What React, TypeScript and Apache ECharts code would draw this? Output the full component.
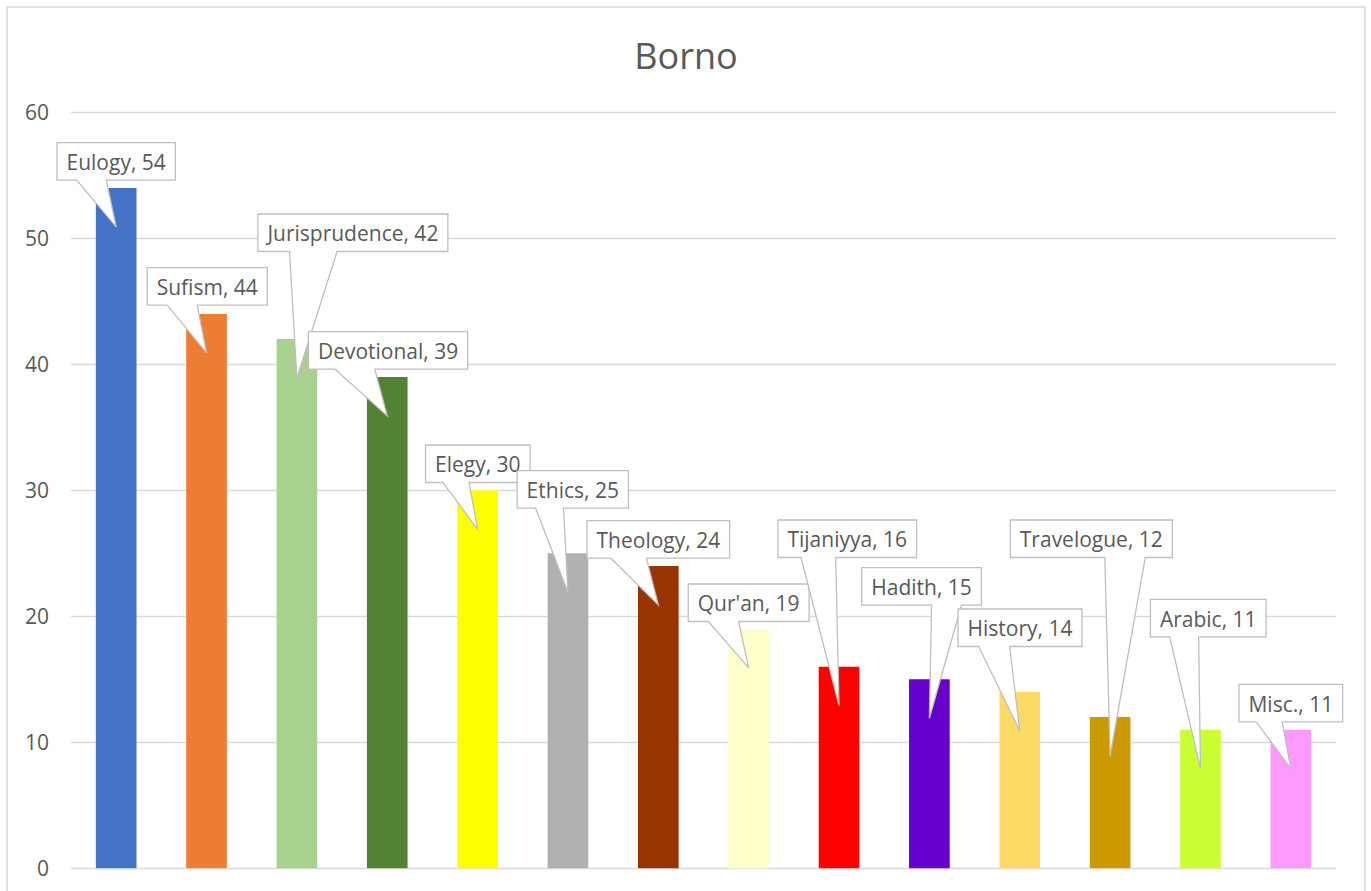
import React, { useEffect, useRef } from "react";
import * as echarts from "echarts";

const title = "Borno";
const categories = ["Eulogy", "Sufism", "Jurisprudence", "Devotional", "Elegy", "Ethics", "Theology", "Qur'an", "Tijaniyya", "Hadith", "History", "Travelogue", "Arabic", "Misc."];
const values = [54, 44, 42, 39, 30, 25, 24, 19, 16, 15, 14, 12, 11, 11];
const barColors = ["#4472C4", "#ED7D31", "#A9D18E", "#548235", "#FFFF00", "#B0B0B0", "#993300", "#FFFFCC", "#FF0000", "#6600CC", "#FFD966", "#CC9900", "#CCFF33", "#FF99FF"];
const yMin = 0;
const yMax = 60;
const yInterval = 10;

// callout layout (box center x offset from bar center, box top offset from bar top), in px
const calloutDx = [0, 0.7, 56, 0.8, 0.2, 4.8, 0, 0, 8.2, -7.8, 0.2, -18.8, 7.8, 0];
const calloutDy = [-45.2, -46.2, -125.1, -45.2, -45.3, -82.6, -45.2, -44.9, -146.7, -111.6, -82.9, -197.1, -130.4, -45.4];

const FONT_FAMILY = '"Open Sans", "Liberation Sans", sans-serif';
const LABEL_SIZE = 21;
const TEXT_COLOR = "#595959";

let measureCtx: CanvasRenderingContext2D | null = null;
function measure(text: string, size: number): number {
  if (!measureCtx) measureCtx = document.createElement("canvas").getContext("2d");
  if (!measureCtx) return text.length * size * 0.5;
  measureCtx.font = `${size}px ${FONT_FAMILY}`;
  return measureCtx.measureText(text).width;
}

export default function App() {
  const ref = useRef<HTMLDivElement>(null);
  useEffect(() => {
    if (!ref.current) return;
    const chart = echarts.init(ref.current, null, { renderer: "svg" });
    const option: any = {
      animation: false,
      backgroundColor: "#ffffff",
      grid: { left: 71, right: 35, top: 112.3, bottom: 22.7 },
      graphic: [
        {
          type: "rect",
          shape: { x: 7, y: 7, width: 1358, height: 1000 },
          style: { fill: "none", stroke: "#D9D9D9", lineWidth: 1.5 },
          silent: true,
        },
        {
          type: "text",
          x: 686,
          y: 55,
          style: { text: title, fill: TEXT_COLOR, fontSize: 36, fontFamily: FONT_FAMILY, align: "center", verticalAlign: "middle" },
        },
      ],
      xAxis: {
        type: "category",
        data: categories,
        axisLine: { show: false },
        axisTick: { show: false },
        axisLabel: { show: false },
        splitLine: { show: false },
      },
      yAxis: {
        type: "value",
        min: yMin,
        max: yMax,
        interval: yInterval,
        axisLine: { show: false },
        axisTick: { show: false },
        axisLabel: { color: TEXT_COLOR, fontSize: LABEL_SIZE, fontFamily: FONT_FAMILY, margin: 22 },
        splitLine: { lineStyle: { color: "#D9D9D9", width: 1.3 } },
      },
      series: [
        {
          type: "bar",
          silent: true,
          data: values,
          barCategoryGap: "55%",
          itemStyle: { color: "#ffffff", borderColor: "#ffffff", borderWidth: 8 },
          z: 2,
        },
        {
          type: "bar",
          data: values.map((v, i) => ({ value: v, itemStyle: { color: barColors[i] } })),
          barGap: "-100%",
          barCategoryGap: "55%",
          z: 3,
        },
        {
          type: "custom",
          coordinateSystem: "cartesian2d",
          data: values.map((v, i) => [i, v]),
          encode: { x: 0, y: 1 },
          z: 5,
          renderItem: (params: any, api: any) => {
            const i = api.value(0);
            const v = api.value(1);
            const p = api.coord([i, v]);
            const text = `${categories[i]}, ${v}`;
            const w = measure(text, LABEL_SIZE) + 19;
            const h = 37.5;
            const cx = p[0] + calloutDx[i];
            const L = cx - w / 2;
            const R = cx + w / 2;
            const T = p[1] + calloutDy[i];
            const B = T + h;
            const tip = [p[0], p[1] + 39];
            const rightSide = calloutDx[i] < -1;
            const b1 = rightSide ? L + (w * 7) / 12 : L + w / 6;
            const b2 = rightSide ? L + (w * 5) / 6 : L + (w * 5) / 12;
            const points = [
              [L, T],
              [R, T],
              [R, B],
              [b2, B],
              tip,
              [b1, B],
              [L, B],
            ];
            return {
              type: "group",
              children: [
                {
                  type: "polygon",
                  shape: { points },
                  style: { fill: "#ffffff", stroke: "#BFBFBF", lineWidth: 1.3 },
                },
                {
                  type: "text",
                  x: cx,
                  y: T + h / 2 + 0.5,
                  style: {
                    text,
                    fill: TEXT_COLOR,
                    fontSize: LABEL_SIZE,
                    fontFamily: FONT_FAMILY,
                    align: "center",
                    verticalAlign: "middle",
                  },
                },
              ],
            };
          },
        },
      ],
    };
    chart.setOption(option);
    return () => chart.dispose();
  }, []);
  return (
    <div
      ref={ref}
      style={{ position: "absolute", left: 0, top: 0, width: 1371, height: 891, background: "#fff" }}
    />
  );
}
